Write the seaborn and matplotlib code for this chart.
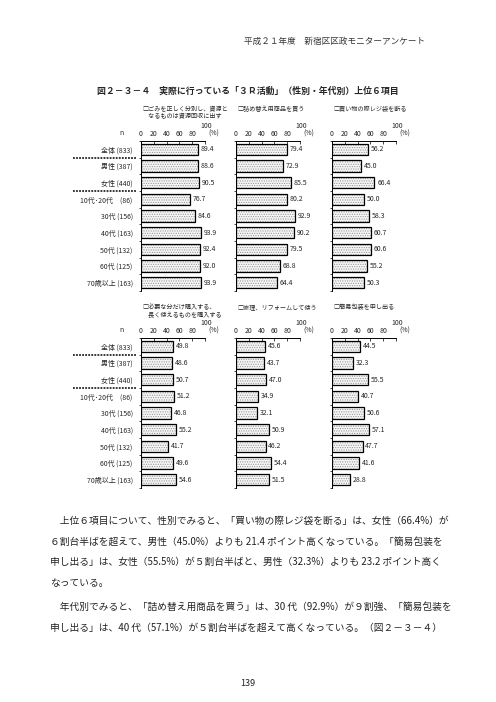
import matplotlib
matplotlib.use('Agg')
import matplotlib.pyplot as plt
import matplotlib.transforms as mtransforms
import seaborn as sns

sns.set_style('white')
plt.rcParams['font.family'] = ['Noto Sans CJK JP', 'DejaVu Sans']
plt.rcParams['hatch.linewidth'] = 0.45

# data
groups = ['全体 (833)', '男性 (387)', '女性 (440)', '10代･20代　(86)', '30代 (156)',
          '40代 (163)', '50代 (132)', '60代 (125)', '70歳以上 (163)']

titles = [['□ごみを正しく分別し、資源と', '　なるものは資源回収に出す'],
          ['□詰め替え用商品を買う'],
          ['□買い物の際レジ袋を断る'],
          ['□必要な分だけ購入する、', '　長く使えるものを購入する'],
          ['□修理、リフォームして使う'],
          ['□簡易包装を申し出る']]

gomi = [89.4, 88.6, 90.5, 76.7, 84.6, 93.9, 92.4, 92.0, 93.9]
tsumekae = [79.4, 72.9, 85.5, 80.2, 92.9, 90.2, 79.5, 68.8, 64.4]
rejibukuro = [56.2, 45.0, 66.4, 50.0, 58.3, 60.7, 60.6, 55.2, 50.3]
hitsuyou = [49.8, 48.6, 50.7, 51.2, 46.8, 55.2, 41.7, 49.6, 54.6]
shuuri = [45.6, 43.7, 47.0, 34.9, 32.1, 50.9, 46.2, 54.4, 51.5]
kanihousou = [44.5, 32.3, 55.5, 40.7, 50.6, 57.1, 47.7, 41.6, 28.8]

series = [gomi, tsumekae, rejibukuro, hitsuyou, shuuri, kanihousou]

body = [
    '　上位６項目について、性別でみると、「買い物の際レジ袋を断る」は、女性（66.4%）が',
    '６割台半ばを超えて、男性（45.0%）よりも 21.4 ポイント高くなっている。「簡易包装を',
    '申し出る」は、女性（55.5%）が５割台半ばと、男性（32.3%）よりも 23.2 ポイント高く',
    'なっている。',
    '　年代別でみると、「詰め替え用商品を買う」は、30 代（92.9%）が９割強、「簡易包装を',
    '申し出る」は、40 代（57.1%）が５割台半ばを超えて高くなっている。（図２－３－４）',
]

W, H = 496, 702
fig = plt.figure(figsize=(W / 100, H / 100), dpi=100)


def fx(x):
    return x / W


def fy(y):
    return 1 - y / H


fig.text(fx(425), fy(41), '平成２１年度　新宿区区政モニターアンケート',
         ha='right', va='center', fontsize=6.2, color='#333333')
fig.text(fx(248), fy(91), '図２－３－４　実際に行っている「３Ｒ活動」（性別・年代別）上位６項目',
         ha='center', va='center', fontsize=6.4, fontweight='bold')

lefts = [141, 236, 332]
tops = [141, 338]

for i, vals in enumerate(series):
    r, c = divmod(i, 3)
    x0 = lefts[c]
    y0 = tops[r]
    ax = fig.add_axes([fx(x0), fy(y0 + 150), 64 / W, 150 / H])
    # stippled fill
    sns.barplot(x=vals, y=groups, orient='h', ax=ax, color='#f4f4f4',
                edgecolor='#8c8c8c', linewidth=0, width=0.68)
    for p in ax.patches:
        p.set_hatch('.......')
    # black outline
    sns.barplot(x=vals, y=groups, orient='h', ax=ax, fill=False, color='black',
                linewidth=0.9, width=0.68)
    ax.bar_label(ax.containers[0], fmt='%.1f', padding=2, fontsize=5)
    ax.set_xlim(0, 100)
    ax.set_ylim(len(groups) - 0.5, -0.5)
    ax.set_xticks([0, 20, 40, 60, 80, 100])
    ax.set_xticklabels(['0', '20', '40', '60', '80', ''])
    ax.xaxis.tick_top()
    ax.tick_params(axis='x', direction='in', length=2, width=0.6, pad=2,
                   labelsize=5, top=True, bottom=False)
    ax.set_yticks([k + 0.5 for k in range(len(groups) - 1)] + [-0.5, len(groups) - 0.5],
                  minor=True)
    ax.tick_params(axis='y', which='minor', direction='out', length=1.5, width=0.6, left=True)
    ax.tick_params(axis='y', which='major', length=0, pad=6, labelsize=5)
    if c != 0:
        ax.set_yticklabels([])
    ax.set_xlabel('')
    ax.set_ylabel('')
    for s in ['right', 'bottom']:
        ax.spines[s].set_visible(False)
    for s in ['top', 'left']:
        ax.spines[s].set_linewidth(0.7)
        ax.spines[s].set_color('black')
    ax.text(1.02, 1.10, '100', transform=ax.transAxes, ha='center', va='center', fontsize=5)
    ax.text(1.13, 1.052, '(%)', transform=ax.transAxes, ha='center', va='center', fontsize=5)

    # panel title
    ty = 109 if r == 0 else 307
    for j, line in enumerate(titles[i]):
        fig.text(fx(x0 + 1), fy(ty + 7.5 * j), line, ha='left', va='center', fontsize=4.4)

    if c == 0:
        fig.text(fx(122), fy(y0 - 8), 'n', ha='center', va='center', fontsize=5)
        trans = mtransforms.blended_transform_factory(fig.transFigure, ax.transData)
        for yb in [0.5, 2.5]:
            ax.plot([fx(73), fx(136)], [yb, yb], transform=trans, color='black',
                    linestyle=(0, (1.2, 0.8)), linewidth=1.1, clip_on=False)

for k, line in enumerate(body):
    y = 521 + 20.7 * k + (3 if k >= 4 else 0)
    fig.text(fx(50), fy(y), line, ha='left', va='center', fontsize=7.0, color='#222222')

fig.text(fx(248), fy(683), '139', ha='center', va='center', fontsize=6.5, color='#222222')

fig.savefig('out.png', dpi=100)
